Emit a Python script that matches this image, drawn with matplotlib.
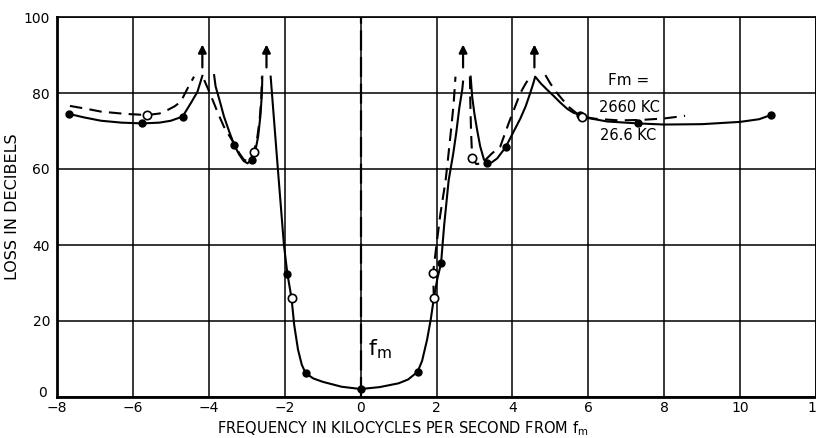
import matplotlib
matplotlib.use("Agg")
import matplotlib.pyplot as plt
from matplotlib.transforms import ScaledTranslation

# Fm = 26.6 KC (solid, filled dots) in segments
solid_left_x = [-7.68, -7.3, -6.84, -6.3, -5.75, -5.3, -5.0, -4.69, -4.47, -4.3, -4.17]
solid_left_y = [74.5, 73.6, 72.7, 72.2, 72.0, 72.2, 72.7, 73.8, 77.4, 80.3, 84.5]

solid_notch_x = [-3.86, -3.82, -3.7, -3.6, -3.45, -3.33, -3.2, -3.08, -2.98, -2.87, -2.78, -2.7, -2.64, -2.6, -2.59]
solid_notch_y = [84.7, 81.7, 77.5, 73.8, 69.5, 66.3, 63.8, 62.1, 61.5, 62.4, 64.5, 68.5, 74.0, 80.0, 84.3]

solid_pass_x = [-2.37, -2.3, -2.2, -2.1, -2.02, -1.93, -1.82, -1.75, -1.65, -1.55, -1.45, -1.25, -1.0, -0.5,
                0.0, 0.5, 1.0, 1.25, 1.5, 1.62, 1.75, 1.85, 1.93, 2.02, 2.12, 2.2, 2.32, 2.44, 2.52, 2.6, 2.68, 2.7]
solid_pass_y = [84.3, 75.3, 62.5, 50.0, 40.0, 32.5, 26.0, 19.0, 12.5, 8.5, 6.3, 4.9, 4.0, 2.7,
                2.1, 2.6, 3.6, 4.6, 6.6, 9.5, 15.0, 20.5, 26.0, 31.0, 35.2, 45.0, 57.0, 64.0, 69.5, 76.0, 81.0, 83.0]

solid_right_x = [2.9, 2.94, 3.0, 3.07, 3.15, 3.25, 3.33, 3.45, 3.6, 3.82, 4.01, 4.21, 4.35, 4.47, 4.55, 4.6,
                 4.75, 4.9, 5.09, 5.26, 5.45, 5.61, 5.77, 6.0, 6.5, 7.3, 8.0, 9.0, 10.0, 10.5, 10.81]
solid_right_y = [84.3, 79.0, 74.5, 70.3, 66.0, 62.5, 61.5, 61.7, 62.8, 65.7, 69.4, 73.3, 76.5, 80.0, 82.5, 84.3,
                 82.5, 81.0, 79.2, 77.5, 75.8, 74.8, 74.3, 73.4, 72.5, 72.0, 71.7, 71.8, 72.4, 73.1, 74.2]

solid_dots_x = [-7.68, -5.75, -4.69, -3.33, -2.87, -1.93, -1.45, 0.0, 1.5, 2.12, 3.33, 3.82, 5.77, 7.3, 10.81]
solid_dots_y = [74.5, 72.0, 73.8, 66.3, 62.4, 32.5, 6.3, 2.1, 6.6, 35.2, 61.5, 65.7, 74.3, 72.0, 74.2]

# Fm = 2660 KC (dashed, open circles)
dash_left_x = [-7.66, -7.2, -6.84, -6.2, -5.63, -5.3, -5.09, -4.9, -4.74, -4.56, -4.39]
dash_left_y = [76.6, 75.8, 75.1, 74.5, 74.2, 74.6, 75.5, 76.5, 77.7, 81.2, 84.3]

dash_notch_x = [-4.12, -4.0, -3.9, -3.75, -3.6, -3.45, -3.33, -3.2, -3.08, -2.98, -2.88, -2.81, -2.72, -2.66, -2.62, -2.6]
dash_notch_y = [83.4, 80.6, 78.2, 74.5, 71.1, 68.6, 66.7, 64.2, 62.5, 62.0, 63.0, 64.6, 68.5, 73.0, 78.0, 84.3]

dash_pass_x = [1.93, 1.91, 2.0, 2.1, 2.24, 2.3, 2.38, 2.45, 2.5]
dash_pass_y = [26.0, 32.7, 40.0, 48.0, 57.0, 62.4, 70.0, 77.0, 84.3]

dash_right_x = [2.88, 2.89, 2.91, 2.94, 3.05, 3.2, 3.46, 3.68, 3.9, 4.21, 4.35, 4.47]
dash_right_y = [84.3, 78.0, 70.0, 62.8, 61.3, 61.5, 64.1, 65.9, 72.0, 80.0, 82.5, 84.3]

dash_tail_x = [4.87, 5.0, 5.15, 5.3, 5.5, 5.7, 5.83, 6.2, 6.8, 7.37, 8.0, 8.55]
dash_tail_y = [84.7, 82.5, 80.3, 78.5, 76.2, 74.6, 73.8, 73.2, 72.8, 72.9, 73.3, 74.0]

open_dots_x = [-5.63, -2.81, -1.82, 1.93, 1.91, 2.94, 5.83]
open_dots_y = [74.2, 64.6, 26.0, 26.0, 32.7, 62.8, 73.8]

# off-scale peaks
arrow_x = [-4.17, -2.48, 2.7, 4.58]
arrow_base = 86
arrow_top = 93.5

x_ticks = [-8, -6, -4, -2, 0, 2, 4, 6, 8, 10, 12]
y_ticks = [0, 20, 40, 60, 80, 100]

fig = plt.figure(figsize=(8.16, 4.38), dpi=100)
ax = fig.add_axes([57 / 816, 41 / 438, 759 / 816, 380 / 438])
ax.set_xlim(-8, 12)
ax.set_ylim(0, 100)
ax.set_xticks(x_ticks)
ax.set_yticks(y_ticks)
ax.set_xticklabels(["\u22128", "\u22126", "\u22124", "\u22122", "0", "2", "4", "6", "8", "10", "12"])
ax.tick_params(length=0, labelsize=10, pad=5)
ax.tick_params(axis="x", pad=3)
ax.grid(True, color="black", linewidth=1.1)
for side in ["left", "bottom"]:
    ax.spines[side].set_linewidth(2.0)
for side in ["top", "right"]:
    ax.spines[side].set_linewidth(1.2)

# the "0" on the y axis sits a little above its line in the original
zero_lab = ax.get_yticklabels()[0]
zero_lab.set_transform(zero_lab.get_transform() + ScaledTranslation(-2 / 72, 4 / 72, fig.dpi_scale_trans))

ax.axvline(0, color="black", linewidth=1.6, dashes=(9, 3))

lw = 1.5
for xs, ys in [(solid_left_x, solid_left_y), (solid_notch_x, solid_notch_y),
               (solid_pass_x, solid_pass_y), (solid_right_x, solid_right_y)]:
    ax.plot(xs, ys, color="black", linewidth=lw, solid_joinstyle="round")
for xs, ys in [(dash_left_x, dash_left_y), (dash_notch_x, dash_notch_y),
               (dash_pass_x, dash_pass_y), (dash_right_x, dash_right_y), (dash_tail_x, dash_tail_y)]:
    ax.plot(xs, ys, color="black", linewidth=lw, dashes=(6, 3.5))

ax.plot(solid_dots_x, solid_dots_y, "o", color="black", markersize=5, zorder=5)
ax.plot(open_dots_x, open_dots_y, "o", markerfacecolor="white", markeredgecolor="black",
        markeredgewidth=1.2, markersize=6, zorder=6)

for xa in arrow_x:
    ax.annotate("", xy=(xa, arrow_top), xytext=(xa, arrow_base),
                arrowprops=dict(arrowstyle="-|>", color="black", lw=1.6, mutation_scale=12))

ax.text(0.2, 12.5, r"$\mathregular{f_m}$", fontsize=16, ha="left", va="center")
ax.text(7.05, 83.4, "Fm =", fontsize=11, ha="center", va="center")
ax.text(7.08, 76.3, "2660 KC", fontsize=10.5, ha="center", va="center")
ax.text(7.05, 68.7, "26.6 KC", fontsize=10.5, ha="center", va="center")

ax.set_ylabel("LOSS IN DECIBELS", fontsize=11.5)
ax.yaxis.set_label_coords(-0.049, 0.5)
fig.text(403 / 816, 5 / 438, r"FREQUENCY IN KILOCYCLES PER SECOND FROM $\mathregular{f_m}$",
         fontsize=10.5, ha="center", va="baseline")

fig.savefig("out.png", dpi=100)
